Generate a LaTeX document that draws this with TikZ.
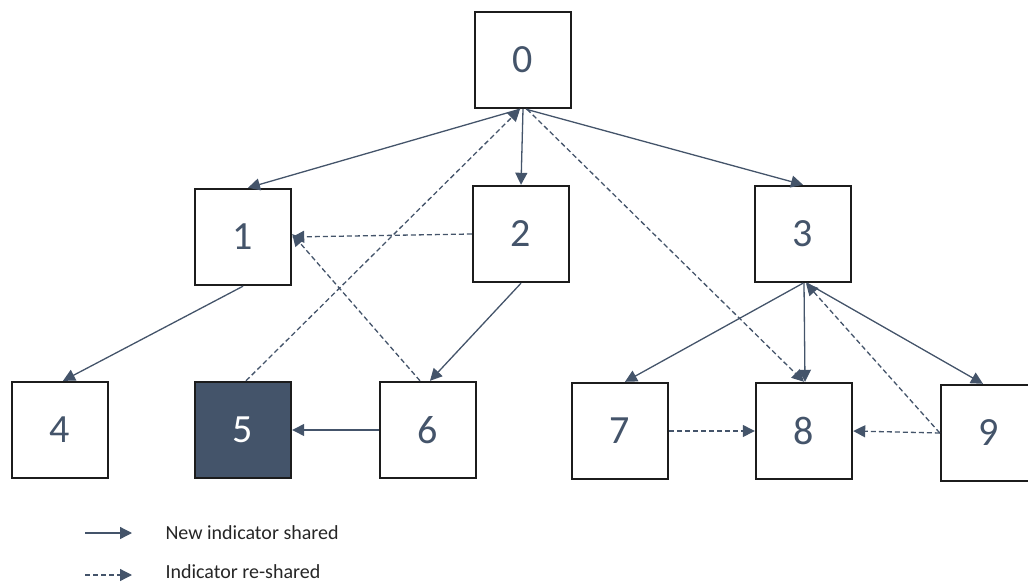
\documentclass[tikz,border=0pt]{standalone}
\usepackage{fontspec}
\setmainfont{Carlito}
\usetikzlibrary{arrows.meta}
\definecolor{slate}{HTML}{44546A}
\definecolor{boxline}{HTML}{1C1C1C}
\tikzset{
  box/.style={draw=boxline, line width=2.4pt, minimum width=96pt, minimum height=96pt, inner sep=0pt, fill=white, text=slate, font=\fontsize{40}{46}\selectfont},
  darkbox/.style={box, fill=slate, text=white},
  newshare/.style={draw=slate, line width=1.3pt, -{Triangle[length=12pt,width=12pt]}},
  reshare/.style={draw=slate, line width=1.3pt, dash pattern=on 5pt off 3pt, -{Triangle[length=12pt,width=12pt]}},
  legendtext/.style={anchor=west, text=black!85, font=\fontsize{20}{24}\selectfont}
}
\begin{document}
\begin{tikzpicture}[x=1pt,y=-1pt]
\useasboundingbox (0,0) rectangle (1028,586);
\node[box] (n0) at (523,60) {0};
\node[box] (n1) at (243,237) {1};
\node[box] (n2) at (521,234) {2};
\node[box] (n3) at (803,234) {3};
\node[box] (n4) at (60,430) {4};
\node[darkbox] (n5) at (243,430) {5};
\node[box] (n6) at (428,430) {6};
\node[box] (n7) at (620,431) {7};
\node[box] (n8) at (804,431) {8};
\node[box] (n9) at (989,433) {9};
% new indicator shared
\draw[newshare] ([xshift=-3pt]n0.south) -- ([xshift=5pt]n1.north);
\draw[newshare] (n0.south) -- (n2.north);
\draw[newshare] ([xshift=3pt]n0.south) -- (n3.north);
\draw[newshare] (n1.south) -- ([xshift=3pt]n4.north);
\draw[newshare] (n2.south) -- ([xshift=2pt]n6.north);
\draw[newshare] (n6.west) -- (n5.east);
\draw[newshare] (n3.south) -- ([xshift=5pt]n7.north);
\draw[newshare] ([xshift=1pt]n3.south) -- ([xshift=1pt]n8.north);
\draw[newshare] ([xshift=4pt]n3.south) -- ([xshift=-6pt]n9.north);
% indicator re-shared
\draw[reshare] ([xshift=3pt]n5.north) -- ([xshift=-3pt]n0.south);
\draw[reshare] (n2.west) -- (n1.east);
\draw[reshare] ([xshift=-8pt]n6.north) -- ([yshift=3pt]n1.east);
\draw[reshare] ([xshift=4pt]n0.south) -- (n8.north);
\draw[reshare] (n7.east) -- (n8.west);
\draw[reshare] (n9.west) -- (n8.east);
\draw[reshare] (n9.west) -- ([xshift=3pt]n3.south);
% legend
\coordinate (l1a) at (85,533);
\coordinate (l1b) at (132,533);
\coordinate (l2a) at (85,575);
\coordinate (l2b) at (132,575);
\draw[newshare] (l1a) -- (l1b);
\draw[reshare] (l2a) -- (l2b);
\node[legendtext] (t1) at (162,533) {New indicator shared};
\node[legendtext] (t2) at (162,572) {Indicator re-shared};
\end{tikzpicture}
\end{document}
